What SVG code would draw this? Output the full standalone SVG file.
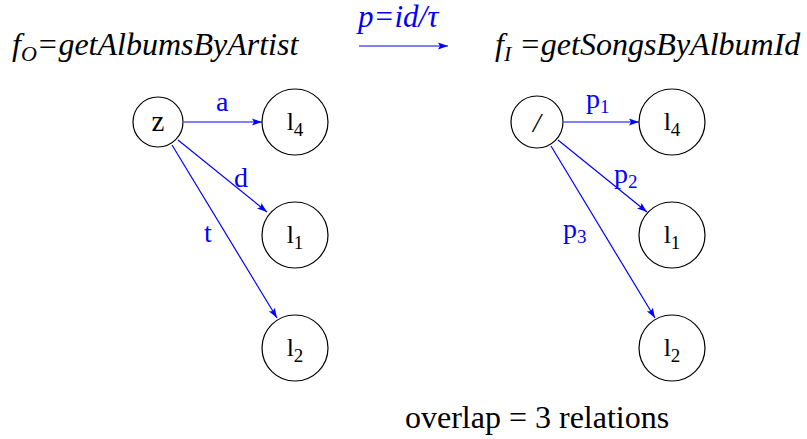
<svg xmlns="http://www.w3.org/2000/svg" width="807" height="439" viewBox="0 0 807 439">
<defs>
<marker id="ah" viewBox="0 0 10 10" refX="10" refY="5" markerWidth="10" markerHeight="10" markerUnits="userSpaceOnUse" orient="auto">
<path d="M0,1.5 L10,5 L0,8.5 L2,5 Z" fill="#0000ff"/>
</marker>
<style>
.n{fill:#fff;stroke:#000;stroke-width:1.2}
.nl{font-family:'Liberation Serif',serif;font-size:26px;fill:#000;text-anchor:middle}
.e{stroke:#0000ff;stroke-width:1.2;fill:none;marker-end:url(#ah)}
.el{font-family:'Liberation Serif',serif;font-size:28px;fill:#0000ff}
.t{font-family:'Liberation Serif',serif;font-size:32px;font-style:italic;fill:#000}
</style>
</defs>
<rect width="807" height="439" fill="#fff"/>
<text class="t" x="12" y="55">f<tspan font-size="22" dy="6">O</tspan><tspan dy="-6">=getAlbumsByArtist</tspan></text>
<text class="t" x="495" y="55">f<tspan font-size="22" dy="6">I</tspan><tspan dy="-6"> =getSongsByAlbumId</tspan></text>
<text class="t" x="358" y="27" style="fill:#0000ff;font-size:31px">p=id/τ</text>
<g id="connectors">
<line class="e" x1="359" y1="46" x2="448" y2="46"/>
<line class="e" x1="184" y1="122" x2="262" y2="122"/>
<line class="e" x1="178" y1="140" x2="267" y2="212"/>
<line class="e" x1="172" y1="145" x2="277" y2="318"/>
<line class="e" x1="564" y1="122" x2="639" y2="122"/>
<line class="e" x1="558" y1="140" x2="647" y2="212"/>
<line class="e" x1="551" y1="146" x2="655" y2="318"/>
<text class="el" x="216" y="111">a</text>
<text class="el" x="234" y="187">d</text>
<text class="el" x="204" y="242">t</text>
<text class="el" x="586" y="108">p<tspan font-size="19" dy="5">1</tspan></text>
<text class="el" x="614" y="183">p<tspan font-size="19" dy="5">2</tspan></text>
<text class="el" x="563" y="238">p<tspan font-size="19" dy="5">3</tspan></text>
</g>
<g id="z"><circle class="n" cx="158" cy="122" r="25"/><text class="nl" x="158" y="131" style="font-size:29px">z</text></g>
<g id="l4a"><circle class="n" cx="295" cy="122" r="33"/><text class="nl" x="295" y="130">l<tspan font-size="19" dy="6">4</tspan></text></g>
<g id="l1a"><circle class="n" cx="295" cy="235" r="33"/><text class="nl" x="295" y="243">l<tspan font-size="19" dy="6">1</tspan></text></g>
<g id="l2a"><circle class="n" cx="295" cy="348" r="33"/><text class="nl" x="295" y="356">l<tspan font-size="19" dy="6">2</tspan></text></g>
<g id="root"><circle class="n" cx="537" cy="122" r="26"/><text class="nl" x="537" y="132" style="font-size:28px;font-style:italic">/</text></g>
<g id="l4b"><circle class="n" cx="672" cy="122" r="33"/><text class="nl" x="672" y="130">l<tspan font-size="19" dy="6">4</tspan></text></g>
<g id="l1b"><circle class="n" cx="672" cy="235" r="33"/><text class="nl" x="672" y="243">l<tspan font-size="19" dy="6">1</tspan></text></g>
<g id="l2b"><circle class="n" cx="672" cy="348" r="33"/><text class="nl" x="672" y="356">l<tspan font-size="19" dy="6">2</tspan></text></g>
<text x="405" y="428" font-family="Liberation Serif, serif" font-size="32" fill="#000">overlap = 3 relations</text>
</svg>
